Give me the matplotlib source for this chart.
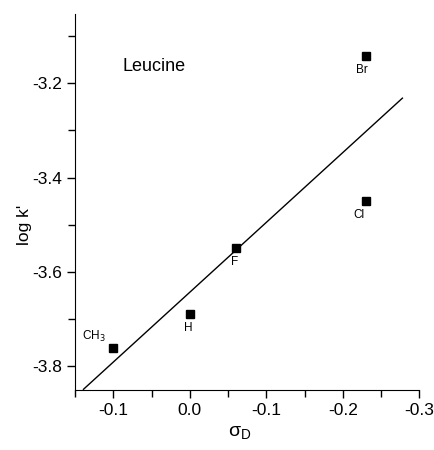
import numpy as np
import matplotlib.pyplot as plt
from matplotlib.ticker import FixedLocator, FixedFormatter, MultipleLocator

plt.rcParams['font.family'] = ['Liberation Sans', 'DejaVu Sans']
plt.rcParams['axes.unicode_minus'] = False

# substituent data (sigma_p, log k')
names = ['CH$_3$', 'H', 'F', 'Cl', 'Br']
sigma = [0.10, 0.00, -0.06, -0.23, -0.23]
logk = [-3.76, -3.69, -3.55, -3.45, -3.143]

xticks = [0.1, 0.0, -0.1, -0.2, -0.3]
xtick_labels = ['-0.1', '0.0', '-0.1', '-0.2', '-0.3']
yticks = [-3.2, -3.4, -3.6, -3.8]
fit_range = [0.139, -0.278]

fig = plt.figure(figsize=(4.34, 4.5), dpi=100)
ax = fig.add_axes([0.173, 0.1333, 0.793, 0.836])

# least squares line
m, b = np.polyfit(sigma, logk, 1)
xs = np.array(fit_range)
ax.plot(xs, m * xs + b, color='black', lw=1.0)

ax.plot(sigma, logk, 's', color='black', ms=5.5)

# labels for each point
offsets = {'CH$_3$': (-14, 8), 'H': (-1, -10), 'F': (-1, -10), 'Cl': (-5, -10), 'Br': (-3, -10)}
for n, x, y in zip(names, sigma, logk):
    dx, dy = offsets[n]
    ax.annotate(n, (x, y), xytext=(dx, dy), textcoords='offset points',
                ha='center', va='center', fontsize=8.5)

ax.text(0.088, -3.165, 'Leucine', fontsize=13, ha='left', va='center')

ax.set_xlim(0.15, -0.3)
ax.set_ylim(-3.85, -3.053)

ax.xaxis.set_major_locator(FixedLocator(xticks))
ax.xaxis.set_major_formatter(FixedFormatter(xtick_labels))
ax.xaxis.set_minor_locator(MultipleLocator(0.05))
ax.yaxis.set_major_locator(FixedLocator(yticks))
ax.yaxis.set_minor_locator(MultipleLocator(0.1))

ax.spines['top'].set_visible(False)
ax.spines['right'].set_visible(False)
ax.tick_params(which='major', length=6, width=1, labelsize=12.5)
ax.tick_params(which='minor', length=5, width=1)

ax.set_ylabel("log k'", fontsize=12.5, va='center')
ax.yaxis.set_label_coords(-0.148, 0.439)
ax.set_xlabel(r'$\mathregular{\sigma_D}$', fontsize=14, va='center')
ax.xaxis.set_label_coords(0.478, -0.112)

fig.savefig('out.png', dpi=100)
